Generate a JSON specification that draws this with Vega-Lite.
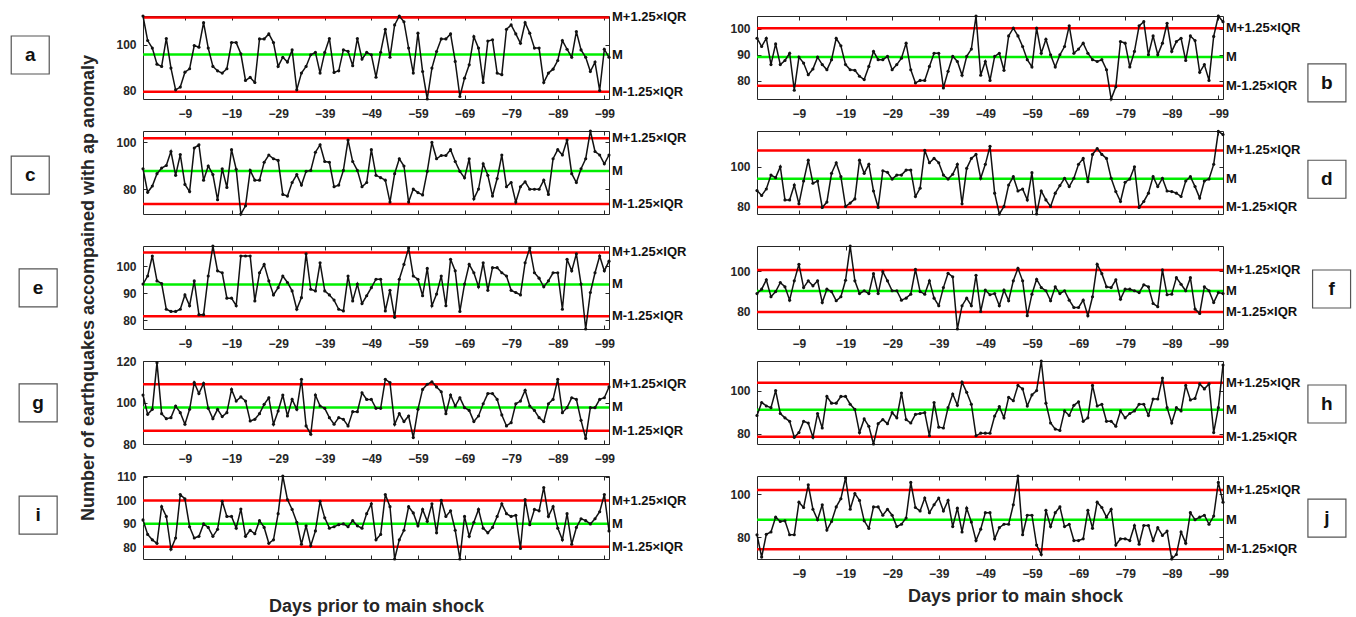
{
"$schema": "https://vega.github.io/schema/vega-lite/v6.json",
"background": "white",
"padding": {"left": 8, "top": 10, "right": 0, "bottom": 0},
"bounds": "flush",
"columns": 2,
"spacing": {"row": 32, "column": 148},
"resolve": {"scale": {"x": "independent", "y": "independent"}},
"config": {
  "font": "Liberation Sans",
  "view": {"stroke": "#262626", "strokeWidth": 1},
  "axis": {"grid": false, "domain": false, "tickSize": -4, "tickColor": "#262626", "tickWidth": 1, "labelOverlap": false, "labelFont": "Liberation Sans", "labelFontSize": 12, "labelFontWeight": "bold", "labelColor": "#262626", "titleFont": "Liberation Sans", "titleFontSize": 18, "titleFontWeight": "bold", "titleColor": "#262626"},
  "axisX": {"labelPadding": 13},
  "axisY": {"labelPadding": 11}
},
"datasets": {
"refs": [
{"p":"a","k":"U","y":112.0,"lab":"M+1.25×IQR"},{"p":"a","k":"M","y":95.8,"lab":"M"},{"p":"a","k":"L","y":79.6,"lab":"M-1.25×IQR"},
{"p":"b","k":"U","y":100.3,"lab":"M+1.25×IQR"},{"p":"b","k":"M","y":89.1,"lab":"M"},{"p":"b","k":"L","y":78.0,"lab":"M-1.25×IQR"},
{"p":"c","k":"U","y":101.8,"lab":"M+1.25×IQR"},{"p":"c","k":"M","y":87.7,"lab":"M"},{"p":"c","k":"L","y":73.6,"lab":"M-1.25×IQR"},
{"p":"d","k":"U","y":108.2,"lab":"M+1.25×IQR"},{"p":"d","k":"M","y":93.9,"lab":"M"},{"p":"d","k":"L","y":79.7,"lab":"M-1.25×IQR"},
{"p":"e","k":"U","y":105.0,"lab":"M+1.25×IQR"},{"p":"e","k":"M","y":93.2,"lab":"M"},{"p":"e","k":"L","y":81.4,"lab":"M-1.25×IQR"},
{"p":"f","k":"U","y":100.7,"lab":"M+1.25×IQR"},{"p":"f","k":"M","y":90.1,"lab":"M"},{"p":"f","k":"L","y":79.5,"lab":"M-1.25×IQR"},
{"p":"g","k":"U","y":108.8,"lab":"M+1.25×IQR"},{"p":"g","k":"M","y":97.6,"lab":"M"},{"p":"g","k":"L","y":86.4,"lab":"M-1.25×IQR"},
{"p":"h","k":"U","y":103.6,"lab":"M+1.25×IQR"},{"p":"h","k":"M","y":91.1,"lab":"M"},{"p":"h","k":"L","y":78.7,"lab":"M-1.25×IQR"},
{"p":"i","k":"U","y":99.9,"lab":"M+1.25×IQR"},{"p":"i","k":"M","y":90.0,"lab":"M"},{"p":"i","k":"L","y":80.1,"lab":"M-1.25×IQR"},
{"p":"j","k":"U","y":102.0,"lab":"M+1.25×IQR"},{"p":"j","k":"M","y":88.1,"lab":"M"},{"p":"j","k":"L","y":74.3,"lab":"M-1.25×IQR"}
],
"letters": [{"p":"a","t":"a"},{"p":"b","t":"b"},{"p":"c","t":"c"},{"p":"d","t":"d"},{"p":"e","t":"e"},{"p":"f","t":"f"},{"p":"g","t":"g"},{"p":"h","t":"h"},{"p":"i","t":"i"},{"p":"j","t":"j"}],
"a": [{"d":0,"v":112.6},{"d":-1,"v":101.9},{"d":-2,"v":98.6},{"d":-3,"v":91.6},{"d":-4,"v":90.6},{"d":-5,"v":102.8},{"d":-6,"v":89.9},{"d":-7,"v":80.4},{"d":-8,"v":81.6},{"d":-9,"v":88.1},{"d":-10,"v":89.6},{"d":-11,"v":99.7},{"d":-12,"v":99.0},{"d":-13,"v":109.7},{"d":-14,"v":98.6},{"d":-15,"v":90.6},{"d":-16,"v":88.7},{"d":-17,"v":87.7},{"d":-18,"v":89.6},{"d":-19,"v":101.0},{"d":-20,"v":101.0},{"d":-21,"v":96.1},{"d":-22,"v":84.5},{"d":-23,"v":85.8},{"d":-24,"v":83.6},{"d":-25,"v":102.6},{"d":-26,"v":102.6},{"d":-27,"v":104.8},{"d":-28,"v":101.0},{"d":-29,"v":90.6},{"d":-30,"v":94.6},{"d":-31,"v":92.5},{"d":-32,"v":97.8},{"d":-33,"v":80.4},{"d":-34,"v":87.7},{"d":-35,"v":90.6},{"d":-36,"v":95.7},{"d":-37,"v":96.7},{"d":-38,"v":87.7},{"d":-39,"v":96.7},{"d":-40,"v":102.8},{"d":-41,"v":88.0},{"d":-42,"v":88.7},{"d":-43,"v":97.8},{"d":-44,"v":97.2},{"d":-45,"v":90.9},{"d":-46,"v":102.8},{"d":-47,"v":93.8},{"d":-48,"v":96.7},{"d":-49,"v":95.7},{"d":-50,"v":85.9},{"d":-51,"v":96.8},{"d":-52,"v":106.8},{"d":-53,"v":94.6},{"d":-54,"v":108.7},{"d":-55,"v":112.6},{"d":-56,"v":110.1},{"d":-57,"v":98.6},{"d":-58,"v":87.7},{"d":-59,"v":105.1},{"d":-60,"v":88.4},{"d":-61,"v":76.4},{"d":-62,"v":89.9},{"d":-63,"v":97.1},{"d":-64,"v":102.6},{"d":-65,"v":102.6},{"d":-66,"v":104.8},{"d":-67,"v":92.8},{"d":-68,"v":77.5},{"d":-69,"v":85.5},{"d":-70,"v":91.3},{"d":-71,"v":103.6},{"d":-72,"v":98.6},{"d":-73,"v":83.6},{"d":-74,"v":101.7},{"d":-75,"v":102.2},{"d":-76,"v":87.7},{"d":-77,"v":87.0},{"d":-78,"v":106.8},{"d":-79,"v":108.7},{"d":-80,"v":104.8},{"d":-81,"v":100.7},{"d":-82,"v":109.7},{"d":-83,"v":105.1},{"d":-84,"v":98.6},{"d":-85,"v":98.6},{"d":-86,"v":83.6},{"d":-87,"v":87.7},{"d":-88,"v":89.4},{"d":-89,"v":93.2},{"d":-90,"v":101.9},{"d":-91,"v":98.1},{"d":-92,"v":94.6},{"d":-93,"v":105.8},{"d":-94,"v":97.8},{"d":-95,"v":94.6},{"d":-96,"v":88.4},{"d":-97,"v":92.5},{"d":-98,"v":80.1},{"d":-99,"v":98.1},{"d":-100,"v":94.6}],
"b": [{"d":0,"v":96.4},{"d":-1,"v":93.2},{"d":-2,"v":96.4},{"d":-3,"v":86.2},{"d":-4,"v":94.2},{"d":-5,"v":86.2},{"d":-6,"v":87.8},{"d":-7,"v":90.6},{"d":-8,"v":76.3},{"d":-9,"v":89.1},{"d":-10,"v":86.8},{"d":-11,"v":82.3},{"d":-12,"v":84.5},{"d":-13,"v":89.1},{"d":-14,"v":86.2},{"d":-15,"v":84.2},{"d":-16,"v":88.1},{"d":-17,"v":96.4},{"d":-18,"v":93.5},{"d":-19,"v":86.2},{"d":-20,"v":84.2},{"d":-21,"v":84.0},{"d":-22,"v":81.7},{"d":-23,"v":80.4},{"d":-24,"v":85.5},{"d":-25,"v":91.3},{"d":-26,"v":88.1},{"d":-27,"v":88.1},{"d":-28,"v":89.4},{"d":-29,"v":84.2},{"d":-30,"v":86.2},{"d":-31,"v":88.7},{"d":-32,"v":94.5},{"d":-33,"v":84.2},{"d":-34,"v":79.1},{"d":-35,"v":80.1},{"d":-36,"v":80.1},{"d":-37,"v":85.5},{"d":-38,"v":90.6},{"d":-39,"v":90.6},{"d":-40,"v":77.2},{"d":-41,"v":83.6},{"d":-42,"v":89.4},{"d":-43,"v":87.4},{"d":-44,"v":82.1},{"d":-45,"v":89.4},{"d":-46,"v":92.2},{"d":-47,"v":105.0},{"d":-48,"v":82.1},{"d":-49,"v":87.4},{"d":-50,"v":80.1},{"d":-51,"v":89.4},{"d":-52,"v":90.6},{"d":-53,"v":84.0},{"d":-54,"v":97.3},{"d":-55,"v":100.3},{"d":-56,"v":97.3},{"d":-57,"v":93.2},{"d":-58,"v":88.1},{"d":-59,"v":85.3},{"d":-60,"v":100.3},{"d":-61,"v":90.6},{"d":-62,"v":96.0},{"d":-63,"v":90.0},{"d":-64,"v":85.3},{"d":-65,"v":90.0},{"d":-66,"v":93.2},{"d":-67,"v":101.2},{"d":-68,"v":90.6},{"d":-69,"v":92.2},{"d":-70,"v":94.5},{"d":-71,"v":90.6},{"d":-72,"v":88.1},{"d":-73,"v":87.4},{"d":-74,"v":88.1},{"d":-75,"v":84.2},{"d":-76,"v":72.9},{"d":-77,"v":77.6},{"d":-78,"v":95.1},{"d":-79,"v":94.5},{"d":-80,"v":85.3},{"d":-81,"v":91.3},{"d":-82,"v":101.2},{"d":-83,"v":102.8},{"d":-84,"v":90.0},{"d":-85,"v":97.3},{"d":-86,"v":90.0},{"d":-87,"v":94.5},{"d":-88,"v":102.2},{"d":-89,"v":91.3},{"d":-90,"v":95.1},{"d":-91,"v":96.4},{"d":-92,"v":87.8},{"d":-93,"v":97.3},{"d":-94,"v":95.5},{"d":-95,"v":83.2},{"d":-96,"v":86.2},{"d":-97,"v":80.1},{"d":-98,"v":97.1},{"d":-99,"v":105.0},{"d":-100,"v":102.8}],
"c": [{"d":0,"v":88.7},{"d":-1,"v":78.6},{"d":-2,"v":81.3},{"d":-3,"v":86.6},{"d":-4,"v":89.0},{"d":-5,"v":90.1},{"d":-6,"v":96.1},{"d":-7,"v":85.9},{"d":-8,"v":94.8},{"d":-9,"v":82.0},{"d":-10,"v":78.9},{"d":-11,"v":97.6},{"d":-12,"v":99.0},{"d":-13,"v":83.8},{"d":-14,"v":89.9},{"d":-15,"v":86.2},{"d":-16,"v":75.4},{"d":-17,"v":88.7},{"d":-18,"v":80.7},{"d":-19,"v":96.9},{"d":-20,"v":88.5},{"d":-21,"v":69.3},{"d":-22,"v":72.8},{"d":-23,"v":88.0},{"d":-24,"v":83.8},{"d":-25,"v":83.8},{"d":-26,"v":91.5},{"d":-27,"v":94.6},{"d":-28,"v":93.0},{"d":-29,"v":92.3},{"d":-30,"v":77.7},{"d":-31,"v":77.0},{"d":-32,"v":82.8},{"d":-33,"v":86.2},{"d":-34,"v":81.7},{"d":-35,"v":87.6},{"d":-36,"v":88.0},{"d":-37,"v":95.8},{"d":-38,"v":99.0},{"d":-39,"v":91.8},{"d":-40,"v":91.5},{"d":-41,"v":81.0},{"d":-42,"v":81.7},{"d":-43,"v":88.0},{"d":-44,"v":101.0},{"d":-45,"v":91.8},{"d":-46,"v":88.0},{"d":-47,"v":81.0},{"d":-48,"v":82.8},{"d":-49,"v":96.9},{"d":-50,"v":85.9},{"d":-51,"v":84.9},{"d":-52,"v":83.8},{"d":-53,"v":74.4},{"d":-54,"v":86.6},{"d":-55,"v":93.0},{"d":-56,"v":89.9},{"d":-57,"v":74.4},{"d":-58,"v":80.0},{"d":-59,"v":78.5},{"d":-60,"v":77.5},{"d":-61,"v":87.6},{"d":-62,"v":100.0},{"d":-63,"v":93.0},{"d":-64,"v":94.4},{"d":-65,"v":94.4},{"d":-66,"v":96.9},{"d":-67,"v":91.8},{"d":-68,"v":87.6},{"d":-69,"v":84.8},{"d":-70,"v":93.0},{"d":-71,"v":75.8},{"d":-72,"v":80.0},{"d":-73,"v":90.8},{"d":-74,"v":85.9},{"d":-75,"v":77.0},{"d":-76,"v":84.5},{"d":-77,"v":94.6},{"d":-78,"v":81.0},{"d":-79,"v":82.8},{"d":-80,"v":74.4},{"d":-81,"v":81.0},{"d":-82,"v":83.1},{"d":-83,"v":79.9},{"d":-84,"v":79.9},{"d":-85,"v":79.9},{"d":-86,"v":83.8},{"d":-87,"v":77.7},{"d":-88,"v":93.0},{"d":-89,"v":96.9},{"d":-90,"v":94.6},{"d":-91,"v":101.0},{"d":-92,"v":86.6},{"d":-93,"v":82.8},{"d":-94,"v":88.7},{"d":-95,"v":93.0},{"d":-96,"v":104.9},{"d":-97,"v":96.1},{"d":-98,"v":94.6},{"d":-99,"v":90.8},{"d":-100,"v":94.6}],
"d": [{"d":0,"v":88.0},{"d":-1,"v":85.5},{"d":-2,"v":88.8},{"d":-3,"v":95.8},{"d":-4,"v":94.5},{"d":-5,"v":100.0},{"d":-6,"v":83.3},{"d":-7,"v":83.3},{"d":-8,"v":90.8},{"d":-9,"v":81.3},{"d":-10,"v":92.8},{"d":-11,"v":103.3},{"d":-12,"v":91.7},{"d":-13,"v":92.8},{"d":-14,"v":79.5},{"d":-15,"v":82.2},{"d":-16,"v":96.7},{"d":-17,"v":102.0},{"d":-18,"v":95.0},{"d":-19,"v":80.0},{"d":-20,"v":81.7},{"d":-21,"v":83.8},{"d":-22,"v":103.3},{"d":-23,"v":96.7},{"d":-24,"v":101.2},{"d":-25,"v":87.8},{"d":-26,"v":79.5},{"d":-27,"v":98.0},{"d":-28,"v":97.2},{"d":-29,"v":93.8},{"d":-30,"v":95.8},{"d":-31,"v":95.8},{"d":-32,"v":98.3},{"d":-33,"v":98.3},{"d":-34,"v":85.0},{"d":-35,"v":89.2},{"d":-36,"v":108.3},{"d":-37,"v":102.0},{"d":-38,"v":104.2},{"d":-39,"v":102.0},{"d":-40,"v":95.8},{"d":-41,"v":93.8},{"d":-42,"v":96.2},{"d":-43,"v":101.2},{"d":-44,"v":81.3},{"d":-45,"v":99.2},{"d":-46,"v":104.2},{"d":-47,"v":106.2},{"d":-48,"v":94.2},{"d":-49,"v":101.2},{"d":-50,"v":110.3},{"d":-51,"v":86.7},{"d":-52,"v":76.2},{"d":-53,"v":80.0},{"d":-54,"v":90.8},{"d":-55,"v":95.0},{"d":-56,"v":87.8},{"d":-57,"v":88.8},{"d":-58,"v":83.3},{"d":-59,"v":97.0},{"d":-60,"v":76.2},{"d":-61,"v":87.8},{"d":-62,"v":83.3},{"d":-63,"v":80.0},{"d":-64,"v":86.7},{"d":-65,"v":90.5},{"d":-66,"v":94.2},{"d":-67,"v":90.0},{"d":-68,"v":94.2},{"d":-69,"v":101.2},{"d":-70,"v":104.2},{"d":-71,"v":92.5},{"d":-72,"v":106.2},{"d":-73,"v":109.2},{"d":-74,"v":106.2},{"d":-75,"v":104.2},{"d":-76,"v":94.2},{"d":-77,"v":87.5},{"d":-78,"v":82.5},{"d":-79,"v":92.2},{"d":-80,"v":93.8},{"d":-81,"v":100.0},{"d":-82,"v":79.5},{"d":-83,"v":82.5},{"d":-84,"v":86.7},{"d":-85,"v":95.0},{"d":-86,"v":90.0},{"d":-87,"v":94.2},{"d":-88,"v":87.8},{"d":-89,"v":87.5},{"d":-90,"v":86.7},{"d":-91,"v":85.0},{"d":-92,"v":92.8},{"d":-93,"v":95.0},{"d":-94,"v":90.0},{"d":-95,"v":84.2},{"d":-96,"v":92.8},{"d":-97,"v":93.8},{"d":-98,"v":101.2},{"d":-99,"v":117.8},{"d":-100,"v":116.2}],
"e": [{"d":0,"v":93.3},{"d":-1,"v":96.3},{"d":-2,"v":103.7},{"d":-3,"v":94.5},{"d":-4,"v":93.5},{"d":-5,"v":84.0},{"d":-6,"v":83.2},{"d":-7,"v":83.2},{"d":-8,"v":84.0},{"d":-9,"v":89.3},{"d":-10,"v":85.3},{"d":-11,"v":94.5},{"d":-12,"v":82.0},{"d":-13,"v":82.0},{"d":-14,"v":96.3},{"d":-15,"v":107.4},{"d":-16,"v":98.2},{"d":-17,"v":97.5},{"d":-18,"v":88.1},{"d":-19,"v":88.1},{"d":-20,"v":85.3},{"d":-21,"v":103.7},{"d":-22,"v":103.7},{"d":-23,"v":103.7},{"d":-24,"v":87.1},{"d":-25,"v":97.5},{"d":-26,"v":100.6},{"d":-27,"v":94.5},{"d":-28,"v":89.3},{"d":-29,"v":92.0},{"d":-30,"v":96.3},{"d":-31,"v":93.9},{"d":-32,"v":90.8},{"d":-33,"v":84.0},{"d":-34,"v":88.3},{"d":-35,"v":104.5},{"d":-36,"v":91.4},{"d":-37,"v":90.8},{"d":-38,"v":101.2},{"d":-39,"v":90.8},{"d":-40,"v":89.3},{"d":-41,"v":87.4},{"d":-42,"v":84.0},{"d":-43,"v":83.4},{"d":-44,"v":96.3},{"d":-45,"v":87.1},{"d":-46,"v":93.3},{"d":-47,"v":86.1},{"d":-48,"v":89.0},{"d":-49,"v":92.0},{"d":-50,"v":95.1},{"d":-51,"v":95.1},{"d":-52,"v":83.4},{"d":-53,"v":91.0},{"d":-54,"v":81.0},{"d":-55,"v":95.1},{"d":-56,"v":100.6},{"d":-57,"v":106.7},{"d":-58,"v":96.3},{"d":-59,"v":95.1},{"d":-60,"v":89.0},{"d":-61,"v":99.1},{"d":-62,"v":85.3},{"d":-63,"v":89.6},{"d":-64,"v":96.3},{"d":-65,"v":85.3},{"d":-66,"v":102.5},{"d":-67,"v":98.2},{"d":-68,"v":83.2},{"d":-69,"v":93.3},{"d":-70,"v":100.6},{"d":-71,"v":97.5},{"d":-72,"v":92.3},{"d":-73,"v":101.2},{"d":-74,"v":91.0},{"d":-75,"v":99.4},{"d":-76,"v":99.4},{"d":-77,"v":97.5},{"d":-78,"v":96.3},{"d":-79,"v":91.0},{"d":-80,"v":90.2},{"d":-81,"v":89.3},{"d":-82,"v":101.2},{"d":-83,"v":106.7},{"d":-84,"v":97.5},{"d":-85,"v":95.5},{"d":-86,"v":92.3},{"d":-87,"v":94.5},{"d":-88,"v":97.5},{"d":-89,"v":97.5},{"d":-90,"v":84.0},{"d":-91,"v":102.5},{"d":-92,"v":98.2},{"d":-93,"v":104.5},{"d":-94,"v":93.3},{"d":-95,"v":76.7},{"d":-96,"v":90.2},{"d":-97,"v":97.5},{"d":-98,"v":103.7},{"d":-99,"v":98.2},{"d":-100,"v":101.8}],
"f": [{"d":0,"v":88.8},{"d":-1,"v":91.0},{"d":-2,"v":95.7},{"d":-3,"v":87.2},{"d":-4,"v":89.8},{"d":-5,"v":94.3},{"d":-6,"v":92.2},{"d":-7,"v":85.5},{"d":-8,"v":95.2},{"d":-9,"v":103.5},{"d":-10,"v":91.8},{"d":-11,"v":95.2},{"d":-12,"v":92.7},{"d":-13,"v":95.2},{"d":-14,"v":84.3},{"d":-15,"v":91.0},{"d":-16,"v":89.8},{"d":-17,"v":85.2},{"d":-18,"v":87.2},{"d":-19,"v":95.5},{"d":-20,"v":112.7},{"d":-21,"v":95.2},{"d":-22,"v":88.8},{"d":-23,"v":90.2},{"d":-24,"v":88.8},{"d":-25,"v":98.8},{"d":-26,"v":88.8},{"d":-27,"v":99.8},{"d":-28,"v":95.2},{"d":-29,"v":90.2},{"d":-30,"v":90.2},{"d":-31,"v":85.5},{"d":-32,"v":86.5},{"d":-33,"v":88.5},{"d":-34,"v":101.0},{"d":-35,"v":89.8},{"d":-36,"v":88.5},{"d":-37,"v":95.2},{"d":-38,"v":86.5},{"d":-39,"v":82.7},{"d":-40,"v":91.8},{"d":-41,"v":99.0},{"d":-42,"v":97.2},{"d":-43,"v":71.0},{"d":-44,"v":82.7},{"d":-45,"v":86.5},{"d":-46,"v":82.7},{"d":-47,"v":98.0},{"d":-48,"v":79.8},{"d":-49,"v":90.5},{"d":-50,"v":88.2},{"d":-51,"v":88.8},{"d":-52,"v":82.7},{"d":-53,"v":90.5},{"d":-54,"v":85.2},{"d":-55,"v":95.2},{"d":-56,"v":101.5},{"d":-57,"v":95.2},{"d":-58,"v":77.7},{"d":-59,"v":88.5},{"d":-60,"v":96.0},{"d":-61,"v":91.8},{"d":-62,"v":90.2},{"d":-63,"v":85.2},{"d":-64,"v":92.2},{"d":-65,"v":88.8},{"d":-66,"v":90.2},{"d":-67,"v":85.5},{"d":-68,"v":81.8},{"d":-69,"v":81.8},{"d":-70,"v":85.5},{"d":-71,"v":77.7},{"d":-72,"v":87.2},{"d":-73,"v":103.5},{"d":-74,"v":98.8},{"d":-75,"v":92.2},{"d":-76,"v":91.8},{"d":-77,"v":95.7},{"d":-78,"v":86.0},{"d":-79,"v":91.0},{"d":-80,"v":91.0},{"d":-81,"v":90.2},{"d":-82,"v":89.3},{"d":-83,"v":93.2},{"d":-84,"v":92.2},{"d":-85,"v":83.8},{"d":-86,"v":82.2},{"d":-87,"v":100.7},{"d":-88,"v":88.2},{"d":-89,"v":88.5},{"d":-90,"v":96.8},{"d":-91,"v":93.5},{"d":-92,"v":90.2},{"d":-93,"v":96.8},{"d":-94,"v":81.0},{"d":-95,"v":78.8},{"d":-96,"v":92.2},{"d":-97,"v":90.2},{"d":-98,"v":84.3},{"d":-99,"v":89.3},{"d":-100,"v":88.8}],
"g": [{"d":0,"v":103.6},{"d":-1,"v":94.3},{"d":-2,"v":96.7},{"d":-3,"v":119.2},{"d":-4,"v":94.6},{"d":-5,"v":92.2},{"d":-6,"v":92.7},{"d":-7,"v":98.3},{"d":-8,"v":95.1},{"d":-9,"v":89.5},{"d":-10,"v":96.7},{"d":-11,"v":109.6},{"d":-12,"v":104.3},{"d":-13,"v":109.2},{"d":-14,"v":97.2},{"d":-15,"v":92.2},{"d":-16,"v":96.7},{"d":-17,"v":93.2},{"d":-18,"v":95.1},{"d":-19,"v":106.3},{"d":-20,"v":100.7},{"d":-21,"v":102.7},{"d":-22,"v":100.7},{"d":-23,"v":91.1},{"d":-24,"v":91.9},{"d":-25,"v":94.6},{"d":-26,"v":99.1},{"d":-27,"v":102.3},{"d":-28,"v":89.5},{"d":-29,"v":95.9},{"d":-30,"v":103.6},{"d":-31,"v":93.5},{"d":-32,"v":101.5},{"d":-33,"v":96.7},{"d":-34,"v":111.2},{"d":-35,"v":88.7},{"d":-36,"v":84.7},{"d":-37,"v":103.6},{"d":-38,"v":98.3},{"d":-39,"v":97.2},{"d":-40,"v":92.7},{"d":-41,"v":89.5},{"d":-42,"v":92.7},{"d":-43,"v":91.9},{"d":-44,"v":88.7},{"d":-45,"v":95.6},{"d":-46,"v":95.6},{"d":-47,"v":104.7},{"d":-48,"v":101.5},{"d":-49,"v":101.5},{"d":-50,"v":97.2},{"d":-51,"v":97.2},{"d":-52,"v":111.2},{"d":-53,"v":109.6},{"d":-54,"v":89.5},{"d":-55,"v":94.6},{"d":-56,"v":90.8},{"d":-57,"v":93.5},{"d":-58,"v":83.1},{"d":-59,"v":96.7},{"d":-60,"v":106.3},{"d":-61,"v":108.8},{"d":-62,"v":110.0},{"d":-63,"v":107.5},{"d":-64,"v":105.2},{"d":-65,"v":94.6},{"d":-66,"v":103.6},{"d":-67,"v":98.3},{"d":-68,"v":102.3},{"d":-69,"v":97.5},{"d":-70,"v":96.2},{"d":-71,"v":90.8},{"d":-72,"v":93.5},{"d":-73,"v":99.4},{"d":-74,"v":104.3},{"d":-75,"v":104.3},{"d":-76,"v":101.5},{"d":-77,"v":94.0},{"d":-78,"v":88.7},{"d":-79,"v":90.3},{"d":-80,"v":99.4},{"d":-81,"v":100.7},{"d":-82,"v":105.9},{"d":-83,"v":98.3},{"d":-84,"v":96.2},{"d":-85,"v":92.7},{"d":-86,"v":90.8},{"d":-87,"v":99.4},{"d":-88,"v":101.5},{"d":-89,"v":111.2},{"d":-90,"v":95.1},{"d":-91,"v":97.5},{"d":-92,"v":102.3},{"d":-93,"v":101.5},{"d":-94,"v":91.4},{"d":-95,"v":82.7},{"d":-96,"v":97.5},{"d":-97,"v":97.5},{"d":-98,"v":101.5},{"d":-99,"v":102.3},{"d":-100,"v":107.5}],
"h": [{"d":0,"v":88.5},{"d":-1,"v":94.5},{"d":-2,"v":92.9},{"d":-3,"v":92.1},{"d":-4,"v":100.0},{"d":-5,"v":89.4},{"d":-6,"v":87.4},{"d":-7,"v":85.8},{"d":-8,"v":78.4},{"d":-9,"v":80.6},{"d":-10,"v":85.8},{"d":-11,"v":85.0},{"d":-12,"v":78.4},{"d":-13,"v":89.4},{"d":-14,"v":82.7},{"d":-15,"v":97.3},{"d":-16,"v":94.2},{"d":-17,"v":94.2},{"d":-18,"v":97.3},{"d":-19,"v":97.3},{"d":-20,"v":93.7},{"d":-21,"v":91.3},{"d":-22,"v":80.6},{"d":-23,"v":86.9},{"d":-24,"v":83.5},{"d":-25,"v":75.3},{"d":-26,"v":84.7},{"d":-27,"v":86.6},{"d":-28,"v":84.7},{"d":-29,"v":89.8},{"d":-30,"v":87.4},{"d":-31,"v":98.9},{"d":-32,"v":86.6},{"d":-33,"v":85.0},{"d":-34,"v":89.0},{"d":-35,"v":89.4},{"d":-36,"v":89.8},{"d":-37,"v":79.1},{"d":-38,"v":94.5},{"d":-39,"v":83.1},{"d":-40,"v":82.7},{"d":-41,"v":92.1},{"d":-42,"v":98.4},{"d":-43,"v":93.2},{"d":-44,"v":103.9},{"d":-45,"v":99.2},{"d":-46,"v":93.7},{"d":-47,"v":79.1},{"d":-48,"v":80.3},{"d":-49,"v":80.3},{"d":-50,"v":80.3},{"d":-51,"v":88.2},{"d":-52,"v":92.6},{"d":-53,"v":87.4},{"d":-54,"v":96.9},{"d":-55,"v":95.3},{"d":-56,"v":102.4},{"d":-57,"v":100.8},{"d":-58,"v":92.9},{"d":-59,"v":98.0},{"d":-60,"v":100.0},{"d":-61,"v":113.7},{"d":-62,"v":94.2},{"d":-63,"v":85.0},{"d":-64,"v":82.2},{"d":-65,"v":81.6},{"d":-66,"v":90.6},{"d":-67,"v":88.5},{"d":-68,"v":93.2},{"d":-69,"v":94.8},{"d":-70,"v":85.8},{"d":-71,"v":87.4},{"d":-72,"v":102.4},{"d":-73,"v":92.9},{"d":-74,"v":93.7},{"d":-75,"v":85.8},{"d":-76,"v":85.8},{"d":-77,"v":83.5},{"d":-78,"v":90.6},{"d":-79,"v":87.4},{"d":-80,"v":89.4},{"d":-81,"v":90.6},{"d":-82,"v":93.7},{"d":-83,"v":93.7},{"d":-84,"v":88.5},{"d":-85,"v":96.1},{"d":-86,"v":96.1},{"d":-87,"v":105.8},{"d":-88,"v":92.1},{"d":-89,"v":85.0},{"d":-90,"v":92.1},{"d":-91,"v":90.6},{"d":-92,"v":102.4},{"d":-93,"v":95.7},{"d":-94,"v":96.4},{"d":-95,"v":103.1},{"d":-96,"v":100.8},{"d":-97,"v":103.1},{"d":-98,"v":80.6},{"d":-99,"v":92.1},{"d":-100,"v":111.8}],
"i": [{"d":0,"v":91.6},{"d":-1,"v":85.4},{"d":-2,"v":83.1},{"d":-3,"v":81.6},{"d":-4,"v":97.3},{"d":-5,"v":93.1},{"d":-6,"v":79.1},{"d":-7,"v":83.9},{"d":-8,"v":102.5},{"d":-9,"v":100.6},{"d":-10,"v":88.7},{"d":-11,"v":83.9},{"d":-12,"v":84.6},{"d":-13,"v":89.9},{"d":-14,"v":88.4},{"d":-15,"v":84.6},{"d":-16,"v":87.6},{"d":-17,"v":99.6},{"d":-18,"v":93.1},{"d":-19,"v":93.1},{"d":-20,"v":88.1},{"d":-21,"v":96.3},{"d":-22,"v":84.6},{"d":-23,"v":87.2},{"d":-24,"v":85.7},{"d":-25,"v":91.3},{"d":-26,"v":88.4},{"d":-27,"v":81.6},{"d":-28,"v":83.1},{"d":-29,"v":94.3},{"d":-30,"v":110.4},{"d":-31,"v":100.3},{"d":-32,"v":96.1},{"d":-33,"v":90.6},{"d":-34,"v":81.2},{"d":-35,"v":89.1},{"d":-36,"v":80.6},{"d":-37,"v":86.9},{"d":-38,"v":99.6},{"d":-39,"v":92.5},{"d":-40,"v":88.1},{"d":-41,"v":88.7},{"d":-42,"v":89.6},{"d":-43,"v":89.9},{"d":-44,"v":88.7},{"d":-45,"v":91.3},{"d":-46,"v":89.1},{"d":-47,"v":88.1},{"d":-48,"v":94.3},{"d":-49,"v":98.5},{"d":-50,"v":83.1},{"d":-51,"v":85.4},{"d":-52,"v":102.5},{"d":-53,"v":97.3},{"d":-54,"v":74.9},{"d":-55,"v":83.1},{"d":-56,"v":87.2},{"d":-57,"v":97.3},{"d":-58,"v":94.6},{"d":-59,"v":89.1},{"d":-60,"v":96.1},{"d":-61,"v":91.0},{"d":-62,"v":98.5},{"d":-63,"v":86.1},{"d":-64,"v":100.0},{"d":-65,"v":93.1},{"d":-66,"v":95.5},{"d":-67,"v":87.2},{"d":-68,"v":74.9},{"d":-69,"v":93.1},{"d":-70,"v":84.6},{"d":-71,"v":90.6},{"d":-72,"v":96.1},{"d":-73,"v":88.1},{"d":-74,"v":86.1},{"d":-75,"v":88.4},{"d":-76,"v":93.1},{"d":-77,"v":98.5},{"d":-78,"v":94.3},{"d":-79,"v":93.1},{"d":-80,"v":93.6},{"d":-81,"v":79.4},{"d":-82,"v":100.3},{"d":-83,"v":89.6},{"d":-84,"v":96.1},{"d":-85,"v":95.5},{"d":-86,"v":105.5},{"d":-87,"v":93.1},{"d":-88,"v":97.3},{"d":-89,"v":88.1},{"d":-90,"v":83.1},{"d":-91,"v":94.3},{"d":-92,"v":81.2},{"d":-93,"v":88.4},{"d":-94,"v":92.1},{"d":-95,"v":91.3},{"d":-96,"v":89.9},{"d":-97,"v":92.1},{"d":-98,"v":95.1},{"d":-99,"v":102.5},{"d":-100,"v":86.9}],
"j": [{"d":0,"v":81.1},{"d":-1,"v":70.7},{"d":-2,"v":81.3},{"d":-3,"v":82.4},{"d":-4,"v":89.3},{"d":-5,"v":87.3},{"d":-6,"v":87.6},{"d":-7,"v":81.1},{"d":-8,"v":81.1},{"d":-9,"v":96.3},{"d":-10,"v":93.8},{"d":-11,"v":104.4},{"d":-12,"v":93.0},{"d":-13,"v":88.1},{"d":-14,"v":95.1},{"d":-15,"v":83.3},{"d":-16,"v":87.3},{"d":-17,"v":94.1},{"d":-18,"v":97.9},{"d":-19,"v":107.6},{"d":-20,"v":93.0},{"d":-21,"v":100.3},{"d":-22,"v":97.1},{"d":-23,"v":87.6},{"d":-24,"v":84.1},{"d":-25,"v":94.1},{"d":-26,"v":94.1},{"d":-27,"v":90.2},{"d":-28,"v":93.0},{"d":-29,"v":90.2},{"d":-30,"v":84.9},{"d":-31,"v":86.0},{"d":-32,"v":88.9},{"d":-33,"v":105.5},{"d":-34,"v":93.8},{"d":-35,"v":92.2},{"d":-36,"v":98.2},{"d":-37,"v":91.4},{"d":-38,"v":95.1},{"d":-39,"v":98.2},{"d":-40,"v":92.2},{"d":-41,"v":97.1},{"d":-42,"v":84.9},{"d":-43,"v":93.5},{"d":-44,"v":82.4},{"d":-45,"v":93.5},{"d":-46,"v":87.0},{"d":-47,"v":78.4},{"d":-48,"v":83.7},{"d":-49,"v":91.4},{"d":-50,"v":91.4},{"d":-51,"v":79.2},{"d":-52,"v":84.4},{"d":-53,"v":86.0},{"d":-54,"v":86.0},{"d":-55,"v":95.1},{"d":-56,"v":108.5},{"d":-57,"v":81.1},{"d":-58,"v":90.2},{"d":-59,"v":90.2},{"d":-60,"v":76.3},{"d":-61,"v":71.9},{"d":-62,"v":92.5},{"d":-63,"v":84.9},{"d":-64,"v":91.4},{"d":-65,"v":94.1},{"d":-66,"v":84.9},{"d":-67,"v":86.0},{"d":-68,"v":78.4},{"d":-69,"v":78.4},{"d":-70,"v":79.2},{"d":-71,"v":92.5},{"d":-72,"v":84.1},{"d":-73,"v":96.3},{"d":-74,"v":93.8},{"d":-75,"v":89.3},{"d":-76,"v":93.0},{"d":-77,"v":76.3},{"d":-78,"v":79.2},{"d":-79,"v":79.2},{"d":-80,"v":78.4},{"d":-81,"v":85.4},{"d":-82,"v":76.7},{"d":-83,"v":85.4},{"d":-84,"v":85.4},{"d":-85,"v":78.4},{"d":-86,"v":84.4},{"d":-87,"v":80.8},{"d":-88,"v":82.8},{"d":-89,"v":69.8},{"d":-90,"v":71.9},{"d":-91,"v":82.4},{"d":-92,"v":77.2},{"d":-93,"v":91.4},{"d":-94,"v":88.1},{"d":-95,"v":89.3},{"d":-96,"v":90.2},{"d":-97,"v":86.0},{"d":-98,"v":89.8},{"d":-99,"v":105.5},{"d":-100,"v":96.3}]
},
"concat": [
{"width":466,"height":83,"resolve":{"axis":{"x":"independent","y":"independent"}},"layer":[
 {"data":{"name":"refs"},"transform":[{"filter":"datum.p=='a'"}],"mark":{"type":"rule","strokeWidth":2.5},"encoding":{"y":{"field":"y","type":"quantitative","axis":null},"color":{"field":"k","type":"nominal","scale":{"domain":["U","M","L"],"range":["#ff0000","#00ee00","#ff0000"]},"legend":null}}},
 {"data":{"name":"a"},"mark":{"type":"line","color":"#111111","strokeWidth":1.5,"point":{"filled":true,"size":10,"color":"#111111"}},"encoding":{"x":{"field":"d","type":"quantitative","scale":{"domain":[0,-100]},"axis":{"values":[-9,-19,-29,-39,-49,-59,-69,-79,-89,-99],"title":null}},"y":{"field":"v","type":"quantitative","scale":{"domain":[76.4,112.6],"zero":false,"nice":false},"axis":{"values":[80,100],"title":null,"labelOverlap":false}}}},
 {"data":{"name":"refs"},"transform":[{"filter":"datum.p=='a'"}],"mark":{"type":"text","align":"left","baseline":"middle","dx":3,"fontSize":13,"fontWeight":"bold","color":"#111111"},"encoding":{"x":{"datum":-100,"axis":{"orient":"top","values":[-9,-19,-29,-39,-49,-59,-69,-79,-89,-99],"labels":false,"title":null}},"y":{"field":"y","type":"quantitative","axis":{"orient":"right","values":[80,100],"labels":false,"title":null}},"text":{"field":"lab"}}},
 {"data":{"name":"letters"},"transform":[{"filter":"datum.p=='a'"}],"mark":{"type":"point","shape":"square","size":1444,"filled":true,"fill":"#ffffff","stroke":"#555555","strokeWidth":1.2,"opacity":1},"encoding":{"x":{"datum":24.2,"axis":null},"y":{"datum":95.6,"axis":null}}},
 {"data":{"name":"letters"},"transform":[{"filter":"datum.p=='a'"}],"mark":{"type":"text","fontSize":19,"fontWeight":"bold","color":"#111111"},"encoding":{"x":{"datum":24.2,"axis":null},"y":{"datum":95.6,"axis":null},"text":{"field":"t"}}}
]},
{"width":466,"height":83,"resolve":{"axis":{"x":"independent","y":"independent"}},"layer":[
 {"data":{"name":"refs"},"transform":[{"filter":"datum.p=='b'"}],"mark":{"type":"rule","strokeWidth":2.5},"encoding":{"y":{"field":"y","type":"quantitative","axis":null},"color":{"field":"k","type":"nominal","scale":{"domain":["U","M","L"],"range":["#ff0000","#00ee00","#ff0000"]},"legend":null}}},
 {"data":{"name":"b"},"mark":{"type":"line","color":"#111111","strokeWidth":1.5,"point":{"filled":true,"size":10,"color":"#111111"}},"encoding":{"x":{"field":"d","type":"quantitative","scale":{"domain":[0,-100]},"axis":{"values":[-9,-19,-29,-39,-49,-59,-69,-79,-89,-99],"title":null}},"y":{"field":"v","type":"quantitative","scale":{"domain":[72.9,105.0],"zero":false,"nice":false},"axis":{"values":[80,90,100],"title":null,"labelOverlap":false}}}},
 {"data":{"name":"refs"},"transform":[{"filter":"datum.p=='b'"}],"mark":{"type":"text","align":"left","baseline":"middle","dx":3,"fontSize":13,"fontWeight":"bold","color":"#111111"},"encoding":{"x":{"datum":-100,"axis":{"orient":"top","values":[-9,-19,-29,-39,-49,-59,-69,-79,-89,-99],"labels":false,"title":null}},"y":{"field":"y","type":"quantitative","axis":{"orient":"right","values":[80,90,100],"labels":false,"title":null}},"text":{"field":"lab"}}},
 {"data":{"name":"letters"},"transform":[{"filter":"datum.p=='b'"}],"mark":{"type":"point","shape":"square","size":1444,"filled":true,"fill":"#ffffff","stroke":"#555555","strokeWidth":1.2,"opacity":1},"encoding":{"x":{"datum":-122.3,"axis":null},"y":{"datum":79.1,"axis":null}}},
 {"data":{"name":"letters"},"transform":[{"filter":"datum.p=='b'"}],"mark":{"type":"text","fontSize":19,"fontWeight":"bold","color":"#111111"},"encoding":{"x":{"datum":-122.3,"axis":null},"y":{"datum":79.1,"axis":null},"text":{"field":"t"}}}
]},
{"width":466,"height":83,"resolve":{"axis":{"x":"independent","y":"independent"}},"layer":[
 {"data":{"name":"refs"},"transform":[{"filter":"datum.p=='c'"}],"mark":{"type":"rule","strokeWidth":2.5},"encoding":{"y":{"field":"y","type":"quantitative","axis":null},"color":{"field":"k","type":"nominal","scale":{"domain":["U","M","L"],"range":["#ff0000","#00ee00","#ff0000"]},"legend":null}}},
 {"data":{"name":"c"},"mark":{"type":"line","color":"#111111","strokeWidth":1.5,"point":{"filled":true,"size":10,"color":"#111111"}},"encoding":{"x":{"field":"d","type":"quantitative","scale":{"domain":[0,-100]},"axis":{"values":[-9,-19,-29,-39,-49,-59,-69,-79,-89,-99],"labels":false,"title":null}},"y":{"field":"v","type":"quantitative","scale":{"domain":[69.3,104.9],"zero":false,"nice":false},"axis":{"values":[80,100],"title":null,"labelOverlap":false}}}},
 {"data":{"name":"refs"},"transform":[{"filter":"datum.p=='c'"}],"mark":{"type":"text","align":"left","baseline":"middle","dx":3,"fontSize":13,"fontWeight":"bold","color":"#111111"},"encoding":{"x":{"datum":-100,"axis":{"orient":"top","values":[-9,-19,-29,-39,-49,-59,-69,-79,-89,-99],"labels":false,"title":null}},"y":{"field":"y","type":"quantitative","axis":{"orient":"right","values":[80,100],"labels":false,"title":null}},"text":{"field":"lab"}}},
 {"data":{"name":"letters"},"transform":[{"filter":"datum.p=='c'"}],"mark":{"type":"point","shape":"square","size":1444,"filled":true,"fill":"#ffffff","stroke":"#555555","strokeWidth":1.2,"opacity":1},"encoding":{"x":{"datum":24.2,"axis":null},"y":{"datum":86.0,"axis":null}}},
 {"data":{"name":"letters"},"transform":[{"filter":"datum.p=='c'"}],"mark":{"type":"text","fontSize":19,"fontWeight":"bold","color":"#111111"},"encoding":{"x":{"datum":24.2,"axis":null},"y":{"datum":86.0,"axis":null},"text":{"field":"t"}}}
]},
{"width":466,"height":83,"resolve":{"axis":{"x":"independent","y":"independent"}},"layer":[
 {"data":{"name":"refs"},"transform":[{"filter":"datum.p=='d'"}],"mark":{"type":"rule","strokeWidth":2.5},"encoding":{"y":{"field":"y","type":"quantitative","axis":null},"color":{"field":"k","type":"nominal","scale":{"domain":["U","M","L"],"range":["#ff0000","#00ee00","#ff0000"]},"legend":null}}},
 {"data":{"name":"d"},"mark":{"type":"line","color":"#111111","strokeWidth":1.5,"point":{"filled":true,"size":10,"color":"#111111"}},"encoding":{"x":{"field":"d","type":"quantitative","scale":{"domain":[0,-100]},"axis":{"values":[-9,-19,-29,-39,-49,-59,-69,-79,-89,-99],"labels":false,"title":null}},"y":{"field":"v","type":"quantitative","scale":{"domain":[76.2,118.0],"zero":false,"nice":false},"axis":{"values":[80,100],"title":null,"labelOverlap":false}}}},
 {"data":{"name":"refs"},"transform":[{"filter":"datum.p=='d'"}],"mark":{"type":"text","align":"left","baseline":"middle","dx":3,"fontSize":13,"fontWeight":"bold","color":"#111111"},"encoding":{"x":{"datum":-100,"axis":{"orient":"top","values":[-9,-19,-29,-39,-49,-59,-69,-79,-89,-99],"labels":false,"title":null}},"y":{"field":"y","type":"quantitative","axis":{"orient":"right","values":[80,100],"labels":false,"title":null}},"text":{"field":"lab"}}},
 {"data":{"name":"letters"},"transform":[{"filter":"datum.p=='d'"}],"mark":{"type":"point","shape":"square","size":1444,"filled":true,"fill":"#ffffff","stroke":"#555555","strokeWidth":1.2,"opacity":1},"encoding":{"x":{"datum":-122.3,"axis":null},"y":{"datum":93.7,"axis":null}}},
 {"data":{"name":"letters"},"transform":[{"filter":"datum.p=='d'"}],"mark":{"type":"text","fontSize":19,"fontWeight":"bold","color":"#111111"},"encoding":{"x":{"datum":-122.3,"axis":null},"y":{"datum":93.7,"axis":null},"text":{"field":"t"}}}
]},
{"width":466,"height":83,"resolve":{"axis":{"x":"independent","y":"independent"}},"layer":[
 {"data":{"name":"refs"},"transform":[{"filter":"datum.p=='e'"}],"mark":{"type":"rule","strokeWidth":2.5},"encoding":{"y":{"field":"y","type":"quantitative","axis":null},"color":{"field":"k","type":"nominal","scale":{"domain":["U","M","L"],"range":["#ff0000","#00ee00","#ff0000"]},"legend":null}}},
 {"data":{"name":"e"},"mark":{"type":"line","color":"#111111","strokeWidth":1.5,"point":{"filled":true,"size":10,"color":"#111111"}},"encoding":{"x":{"field":"d","type":"quantitative","scale":{"domain":[0,-100]},"axis":{"values":[-9,-19,-29,-39,-49,-59,-69,-79,-89,-99],"title":null}},"y":{"field":"v","type":"quantitative","scale":{"domain":[76.7,107.4],"zero":false,"nice":false},"axis":{"values":[80,90,100],"title":"Number of earthquakes accompained with ap anomaly","titlePadding":18,"labelOverlap":false}}}},
 {"data":{"name":"refs"},"transform":[{"filter":"datum.p=='e'"}],"mark":{"type":"text","align":"left","baseline":"middle","dx":3,"fontSize":13,"fontWeight":"bold","color":"#111111"},"encoding":{"x":{"datum":-100,"axis":{"orient":"top","values":[-9,-19,-29,-39,-49,-59,-69,-79,-89,-99],"labels":false,"title":null}},"y":{"field":"y","type":"quantitative","axis":{"orient":"right","values":[80,90,100],"labels":false,"title":null}},"text":{"field":"lab"}}},
 {"data":{"name":"letters"},"transform":[{"filter":"datum.p=='e'"}],"mark":{"type":"point","shape":"square","size":1444,"filled":true,"fill":"#ffffff","stroke":"#555555","strokeWidth":1.2,"opacity":1},"encoding":{"x":{"datum":22.5,"axis":null},"y":{"datum":91.9,"axis":null}}},
 {"data":{"name":"letters"},"transform":[{"filter":"datum.p=='e'"}],"mark":{"type":"text","fontSize":19,"fontWeight":"bold","color":"#111111"},"encoding":{"x":{"datum":22.5,"axis":null},"y":{"datum":91.9,"axis":null},"text":{"field":"t"}}}
]},
{"width":466,"height":83,"resolve":{"axis":{"x":"independent","y":"independent"}},"layer":[
 {"data":{"name":"refs"},"transform":[{"filter":"datum.p=='f'"}],"mark":{"type":"rule","strokeWidth":2.5},"encoding":{"y":{"field":"y","type":"quantitative","axis":null},"color":{"field":"k","type":"nominal","scale":{"domain":["U","M","L"],"range":["#ff0000","#00ee00","#ff0000"]},"legend":null}}},
 {"data":{"name":"f"},"mark":{"type":"line","color":"#111111","strokeWidth":1.5,"point":{"filled":true,"size":10,"color":"#111111"}},"encoding":{"x":{"field":"d","type":"quantitative","scale":{"domain":[0,-100]},"axis":{"values":[-9,-19,-29,-39,-49,-59,-69,-79,-89,-99],"title":null}},"y":{"field":"v","type":"quantitative","scale":{"domain":[71.0,112.7],"zero":false,"nice":false},"axis":{"values":[80,100],"title":null,"labelOverlap":false}}}},
 {"data":{"name":"refs"},"transform":[{"filter":"datum.p=='f'"}],"mark":{"type":"text","align":"left","baseline":"middle","dx":3,"fontSize":13,"fontWeight":"bold","color":"#111111"},"encoding":{"x":{"datum":-100,"axis":{"orient":"top","values":[-9,-19,-29,-39,-49,-59,-69,-79,-89,-99],"labels":false,"title":null}},"y":{"field":"y","type":"quantitative","axis":{"orient":"right","values":[80,100],"labels":false,"title":null}},"text":{"field":"lab"}}},
 {"data":{"name":"letters"},"transform":[{"filter":"datum.p=='f'"}],"mark":{"type":"point","shape":"square","size":1444,"filled":true,"fill":"#ffffff","stroke":"#555555","strokeWidth":1.2,"opacity":1},"encoding":{"x":{"datum":-123.3,"axis":null},"y":{"datum":91.1,"axis":null}}},
 {"data":{"name":"letters"},"transform":[{"filter":"datum.p=='f'"}],"mark":{"type":"text","fontSize":19,"fontWeight":"bold","color":"#111111"},"encoding":{"x":{"datum":-123.3,"axis":null},"y":{"datum":91.1,"axis":null},"text":{"field":"t"}}}
]},
{"width":466,"height":83,"resolve":{"axis":{"x":"independent","y":"independent"}},"layer":[
 {"data":{"name":"refs"},"transform":[{"filter":"datum.p=='g'"}],"mark":{"type":"rule","strokeWidth":2.5},"encoding":{"y":{"field":"y","type":"quantitative","axis":null},"color":{"field":"k","type":"nominal","scale":{"domain":["U","M","L"],"range":["#ff0000","#00ee00","#ff0000"]},"legend":null}}},
 {"data":{"name":"g"},"mark":{"type":"line","color":"#111111","strokeWidth":1.5,"point":{"filled":true,"size":10,"color":"#111111"}},"encoding":{"x":{"field":"d","type":"quantitative","scale":{"domain":[0,-100]},"axis":{"values":[-9,-19,-29,-39,-49,-59,-69,-79,-89,-99],"title":null}},"y":{"field":"v","type":"quantitative","scale":{"domain":[80,120],"zero":false,"nice":false},"axis":{"values":[80,100,120],"title":null,"labelOverlap":false}}}},
 {"data":{"name":"refs"},"transform":[{"filter":"datum.p=='g'"}],"mark":{"type":"text","align":"left","baseline":"middle","dx":3,"fontSize":13,"fontWeight":"bold","color":"#111111"},"encoding":{"x":{"datum":-100,"axis":{"orient":"top","values":[-9,-19,-29,-39,-49,-59,-69,-79,-89,-99],"labels":false,"title":null}},"y":{"field":"y","type":"quantitative","axis":{"orient":"right","values":[80,100,120],"labels":false,"title":null}},"text":{"field":"lab"}}},
 {"data":{"name":"letters"},"transform":[{"filter":"datum.p=='g'"}],"mark":{"type":"point","shape":"square","size":1444,"filled":true,"fill":"#ffffff","stroke":"#555555","strokeWidth":1.2,"opacity":1},"encoding":{"x":{"datum":22.5,"axis":null},"y":{"datum":99.8,"axis":null}}},
 {"data":{"name":"letters"},"transform":[{"filter":"datum.p=='g'"}],"mark":{"type":"text","fontSize":19,"fontWeight":"bold","color":"#111111"},"encoding":{"x":{"datum":22.5,"axis":null},"y":{"datum":99.8,"axis":null},"text":{"field":"t"}}}
]},
{"width":466,"height":83,"resolve":{"axis":{"x":"independent","y":"independent"}},"layer":[
 {"data":{"name":"refs"},"transform":[{"filter":"datum.p=='h'"}],"mark":{"type":"rule","strokeWidth":2.5},"encoding":{"y":{"field":"y","type":"quantitative","axis":null},"color":{"field":"k","type":"nominal","scale":{"domain":["U","M","L"],"range":["#ff0000","#00ee00","#ff0000"]},"legend":null}}},
 {"data":{"name":"h"},"mark":{"type":"line","color":"#111111","strokeWidth":1.5,"point":{"filled":true,"size":10,"color":"#111111"}},"encoding":{"x":{"field":"d","type":"quantitative","scale":{"domain":[0,-100]},"axis":{"values":[-9,-19,-29,-39,-49,-59,-69,-79,-89,-99],"labels":false,"title":null}},"y":{"field":"v","type":"quantitative","scale":{"domain":[75.3,113.7],"zero":false,"nice":false},"axis":{"values":[80,100],"title":null,"labelOverlap":false}}}},
 {"data":{"name":"refs"},"transform":[{"filter":"datum.p=='h'"}],"mark":{"type":"text","align":"left","baseline":"middle","dx":3,"fontSize":13,"fontWeight":"bold","color":"#111111"},"encoding":{"x":{"datum":-100,"axis":{"orient":"top","values":[-9,-19,-29,-39,-49,-59,-69,-79,-89,-99],"labels":false,"title":null}},"y":{"field":"y","type":"quantitative","axis":{"orient":"right","values":[80,100],"labels":false,"title":null}},"text":{"field":"lab"}}},
 {"data":{"name":"letters"},"transform":[{"filter":"datum.p=='h'"}],"mark":{"type":"point","shape":"square","size":1444,"filled":true,"fill":"#ffffff","stroke":"#555555","strokeWidth":1.2,"opacity":1},"encoding":{"x":{"datum":-122.3,"axis":null},"y":{"datum":93.8,"axis":null}}},
 {"data":{"name":"letters"},"transform":[{"filter":"datum.p=='h'"}],"mark":{"type":"text","fontSize":19,"fontWeight":"bold","color":"#111111"},"encoding":{"x":{"datum":-122.3,"axis":null},"y":{"datum":93.8,"axis":null},"text":{"field":"t"}}}
]},
{"width":466,"height":83,"resolve":{"axis":{"x":"independent","y":"independent"}},"layer":[
 {"data":{"name":"refs"},"transform":[{"filter":"datum.p=='i'"}],"mark":{"type":"rule","strokeWidth":2.5},"encoding":{"y":{"field":"y","type":"quantitative","axis":null},"color":{"field":"k","type":"nominal","scale":{"domain":["U","M","L"],"range":["#ff0000","#00ee00","#ff0000"]},"legend":null}}},
 {"data":{"name":"i"},"mark":{"type":"line","color":"#111111","strokeWidth":1.5,"point":{"filled":true,"size":10,"color":"#111111"}},"encoding":{"x":{"field":"d","type":"quantitative","scale":{"domain":[0,-100]},"axis":{"values":[-9,-19,-29,-39,-49,-59,-69,-79,-89,-99],"labels":false,"title":"Days prior to main shock","titlePadding":38}},"y":{"field":"v","type":"quantitative","scale":{"domain":[74.9,110.4],"zero":false,"nice":false},"axis":{"values":[80,90,100,110],"title":null,"labelOverlap":false}}}},
 {"data":{"name":"refs"},"transform":[{"filter":"datum.p=='i'"}],"mark":{"type":"text","align":"left","baseline":"middle","dx":3,"fontSize":13,"fontWeight":"bold","color":"#111111"},"encoding":{"x":{"datum":-100,"axis":{"orient":"top","values":[-9,-19,-29,-39,-49,-59,-69,-79,-89,-99],"labels":false,"title":null}},"y":{"field":"y","type":"quantitative","axis":{"orient":"right","values":[80,90,100,110],"labels":false,"title":null}},"text":{"field":"lab"}}},
 {"data":{"name":"letters"},"transform":[{"filter":"datum.p=='i'"}],"mark":{"type":"point","shape":"square","size":1444,"filled":true,"fill":"#ffffff","stroke":"#555555","strokeWidth":1.2,"opacity":1},"encoding":{"x":{"datum":22.5,"axis":null},"y":{"datum":93.7,"axis":null}}},
 {"data":{"name":"letters"},"transform":[{"filter":"datum.p=='i'"}],"mark":{"type":"text","fontSize":19,"fontWeight":"bold","color":"#111111"},"encoding":{"x":{"datum":22.5,"axis":null},"y":{"datum":93.7,"axis":null},"text":{"field":"t"}}}
]},
{"width":466,"height":83,"resolve":{"axis":{"x":"independent","y":"independent"}},"layer":[
 {"data":{"name":"refs"},"transform":[{"filter":"datum.p=='j'"}],"mark":{"type":"rule","strokeWidth":2.5},"encoding":{"y":{"field":"y","type":"quantitative","axis":null},"color":{"field":"k","type":"nominal","scale":{"domain":["U","M","L"],"range":["#ff0000","#00ee00","#ff0000"]},"legend":null}}},
 {"data":{"name":"j"},"mark":{"type":"line","color":"#111111","strokeWidth":1.5,"point":{"filled":true,"size":10,"color":"#111111"}},"encoding":{"x":{"field":"d","type":"quantitative","scale":{"domain":[0,-100]},"axis":{"values":[-9,-19,-29,-39,-49,-59,-69,-79,-89,-99],"title":"Days prior to main shock","titlePadding":8,"titleX":258}},"y":{"field":"v","type":"quantitative","scale":{"domain":[69.8,108.5],"zero":false,"nice":false},"axis":{"values":[80,100],"title":null,"labelOverlap":false}}}},
 {"data":{"name":"refs"},"transform":[{"filter":"datum.p=='j'"}],"mark":{"type":"text","align":"left","baseline":"middle","dx":3,"fontSize":13,"fontWeight":"bold","color":"#111111"},"encoding":{"x":{"datum":-100,"axis":{"orient":"top","values":[-9,-19,-29,-39,-49,-59,-69,-79,-89,-99],"labels":false,"title":null}},"y":{"field":"y","type":"quantitative","axis":{"orient":"right","values":[80,100],"labels":false,"title":null}},"text":{"field":"lab"}}},
 {"data":{"name":"letters"},"transform":[{"filter":"datum.p=='j'"}],"mark":{"type":"point","shape":"square","size":1444,"filled":true,"fill":"#ffffff","stroke":"#555555","strokeWidth":1.2,"opacity":1},"encoding":{"x":{"datum":-122.3,"axis":null},"y":{"datum":88.9,"axis":null}}},
 {"data":{"name":"letters"},"transform":[{"filter":"datum.p=='j'"}],"mark":{"type":"text","fontSize":19,"fontWeight":"bold","color":"#111111"},"encoding":{"x":{"datum":-122.3,"axis":null},"y":{"datum":88.9,"axis":null},"text":{"field":"t"}}}
]}
]
}
